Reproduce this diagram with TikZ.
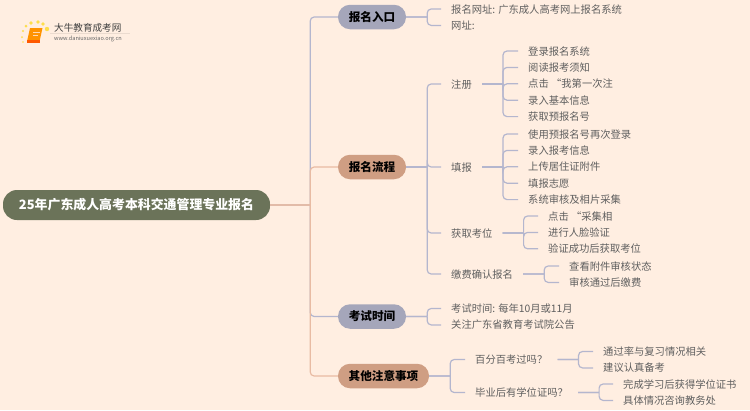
\documentclass[tikz,border=0pt]{standalone}
\usepackage{fontspec}
\setmainfont{Noto Sans CJK SC}
\usepackage{tikz}
\usetikzlibrary{positioning}
\definecolor{paper}{HTML}{FFEEE1}
\definecolor{rootgreen}{HTML}{6B7359}
\definecolor{pillblue}{HTML}{A5A6BA}
\definecolor{pilltan}{HTML}{CF9E83}
\definecolor{linkblue}{HTML}{B4B6CE}
\definecolor{linktan}{HTML}{E8BBA3}
\definecolor{itemtext}{HTML}{5F5F5F}
\tikzstyle{rootnode} = [rectangle, rounded corners=14pt, minimum width=267pt, minimum height=30pt, inner sep=0pt, text height=10.8pt, text depth=1pt, fill=rootgreen, text=white, font=\fontsize{12.9}{13}\selectfont\bfseries]
\tikzstyle{bluepill} = [rectangle, rounded corners=12pt, minimum width=68pt, minimum height=24.5pt, inner sep=0pt, text height=9.6pt, text depth=1pt, fill=pillblue, text=black, font=\fontsize{11.6}{12}\selectfont\bfseries]
\tikzstyle{tanpill} = [bluepill, fill=pilltan]
\tikzstyle{item} = [anchor=west, inner xsep=10pt, inner ysep=0pt, text height=9pt, text depth=1pt, text=itemtext, font=\fontsize{10.3}{11}\selectfont]
\tikzstyle{bluelink} = [line width=1.2pt, rounded corners=4pt, draw=linkblue]
\tikzstyle{tanlink} = [line width=1.2pt, rounded corners=4pt, draw=linktan]
\begin{document}
\begin{tikzpicture}[x=1pt, y=-1pt]
        \useasboundingbox (0,0) rectangle (750,410);
        \fill [paper] (0,0) rectangle (750,410);

        % logo
        \fill [orange!85!yellow] (30,28) -- (42.5,28) -- (39.5,41.5) -- (27,41.5) -- cycle;
        \fill [orange!70!red] (27,40) -- (39.5,40) -- (39.5,42.5) -- (27,42.5) -- cycle;
        \fill [white!70!orange] (33,31.5) rectangle (39.5,32.5);
        \fill [white!70!orange] (32.5,34.5) rectangle (38,35.5);
        \fill [yellow!70!orange!70] (26,26) circle (1.5) (31,23) circle (1.8) (38,22) circle (1.8) (43,24) circle (1.8) (47,29) circle (2.2) (23,31) circle (1.1) (22,37) circle (1) (23,42) circle (0.9);
        \draw [line width=0.5pt, paper!92!black] (50,33.5) -- (130,33.5);
        \node (logotitle) [anchor=west, inner sep=0pt, text=black!75, font=\fontsize{9.6}{10}\selectfont] at (54,27.5) {大牛教育成考网};
        \node (logourl) [anchor=west, inner sep=0pt, text=black!60, font=\fontsize{5.6}{6}\selectfont] at (54,39) {www.daniuxuexiao.org.cn};

        % main branches
        \node (root) [rootnode] at (136.5,205) {25年广东成人高考本科交通管理专业报名};
        \node (entry) [bluepill] at (372,17) {报名入口};
        \node (flow) [tanpill] at (372,167) {报名流程};
        \node (examtime) [bluepill] at (372,316.5) {考试时间};
        \node (notes) [tanpill, minimum width=91pt] at (383.5,376) {其他注意事项};

        % entry
        \node (site) [item] at (441,9) {报名网址: 广东成人高考网上报名系统};
        \node (url) [below=16.4pt of site.west, item] {网址:};

        % flow
        \node (signup) [item] at (441,84) {注册};
        \node (fillin) [item] at (441,167) {填报};
        \node (seat) [item] at (441,233) {获取考位};
        \node (pay) [item] at (441,274) {缴费确认报名};

        \node (signupa) [item] at (518,51) {登录报名系统};
        \node (signupb) [below=16.4pt of signupa.west, item] {阅读报考须知};
        \node (signupc) [below=16.4pt of signupb.west, item] {点击 “我第一次注};
        \node (signupd) [below=16.4pt of signupc.west, item] {录入基本信息};
        \node (signupe) [below=16.4pt of signupd.west, item] {获取预报名号};

        \node (fillina) [item] at (518,134) {使用预报名号再次登录};
        \node (fillinb) [below=16.4pt of fillina.west, item] {录入报考信息};
        \node (fillinc) [below=16.4pt of fillinb.west, item] {上传居住证附件};
        \node (fillind) [below=16.4pt of fillinc.west, item] {填报志愿};
        \node (filline) [below=16.4pt of fillind.west, item] {系统审核及相片采集};

        \node (seata) [item] at (538,216) {点击 “采集相};
        \node (seatb) [below=16.4pt of seata.west, item] {进行人脸验证};
        \node (seatc) [below=16.4pt of seatb.west, item] {验证成功后获取考位};

        \node (paya) [item] at (559,266) {查看附件审核状态};
        \node (payb) [below=16.4pt of paya.west, item] {审核通过后缴费};

        % exam time
        \node (months) [item] at (441,308.5) {考试时间: 每年10月或11月};
        \node (notice) [below=16.4pt of months.west, item] {关注广东省教育考试院公告};

        % notes
        \node (pass) [item] at (465,359.5) {百分百考过吗？};
        \node (degree) [item] at (465,392.5) {毕业后有学位证吗？};
        \node (passa) [item] at (593,351.5) {通过率与复习情况相关};
        \node (passb) [below=16.4pt of passa.west, item] {建议认真备考};
        \node (degreea) [item] at (613,384) {完成学习后获得学位证书};
        \node (degreeb) [below=16.4pt of degreea.west, item] {具体情况咨询教务处};

        % connectors
        \draw [bluelink] (root.east) -- ++(40,0) ++(0,0) |- (entry.west);
        \draw [bluelink] (root.east) -- ++(40,0) ++(0,0) |- (examtime.west);
        \draw [tanlink] (root.east) -- ++(40,0) ++(0,0) |- (flow.west);
        \draw [tanlink] (root.east) -- ++(40,0) ++(0,0) |- (notes.west);

        \draw [bluelink] (entry.east) -- ++(21,0) ++(0,0) |- (site.west);
        \draw [bluelink] (entry.east) -- ++(21,0) ++(0,0) |- (url.west);

        \draw [bluelink] (flow.east) -- ++(21,0) ++(0,0) |- (signup.west);
        \draw [bluelink] (flow.east) -- ++(21,0) ++(0,0) |- (fillin.west);
        \draw [bluelink] (flow.east) -- ++(21,0) ++(0,0) |- (seat.west);
        \draw [bluelink] (flow.east) -- ++(21,0) ++(0,0) |- (pay.west);

        \draw [bluelink] (signup.east) -- ++(21,0) ++(0,0) |- (signupa.west);
        \draw [bluelink] (signup.east) -- ++(21,0) ++(0,0) |- (signupb.west);
        \draw [bluelink] (signup.east) -- ++(21,0) ++(0,0) |- (signupc.west);
        \draw [bluelink] (signup.east) -- ++(21,0) ++(0,0) |- (signupd.west);
        \draw [bluelink] (signup.east) -- ++(21,0) ++(0,0) |- (signupe.west);

        \draw [bluelink] (fillin.east) -- ++(21,0) ++(0,0) |- (fillina.west);
        \draw [bluelink] (fillin.east) -- ++(21,0) ++(0,0) |- (fillinb.west);
        \draw [bluelink] (fillin.east) -- ++(21,0) ++(0,0) |- (fillinc.west);
        \draw [bluelink] (fillin.east) -- ++(21,0) ++(0,0) |- (fillind.west);
        \draw [bluelink] (fillin.east) -- ++(21,0) ++(0,0) |- (filline.west);

        \draw [bluelink] (seat.east) -- ++(21,0) ++(0,0) |- (seata.west);
        \draw [bluelink] (seat.east) -- ++(21,0) ++(0,0) |- (seatb.west);
        \draw [bluelink] (seat.east) -- ++(21,0) ++(0,0) |- (seatc.west);

        \draw [bluelink] (pay.east) -- ++(21,0) ++(0,0) |- (paya.west);
        \draw [bluelink] (pay.east) -- ++(21,0) ++(0,0) |- (payb.west);

        \draw [bluelink] (examtime.east) -- ++(21,0) ++(0,0) |- (months.west);
        \draw [bluelink] (examtime.east) -- ++(21,0) ++(0,0) |- (notice.west);

        \draw [bluelink] (notes.east) -- ++(21,0) ++(0,0) |- (pass.west);
        \draw [bluelink] (notes.east) -- ++(21,0) ++(0,0) |- (degree.west);

        \draw [bluelink] (pass.east) -- ++(21,0) ++(0,0) |- (passa.west);
        \draw [bluelink] (pass.east) -- ++(21,0) ++(0,0) |- (passb.west);

        \draw [bluelink] (degree.east) -- ++(21,0) ++(0,0) |- (degreea.west);
        \draw [bluelink] (degree.east) -- ++(21,0) ++(0,0) |- (degreeb.west);
\end{tikzpicture}
\end{document}
